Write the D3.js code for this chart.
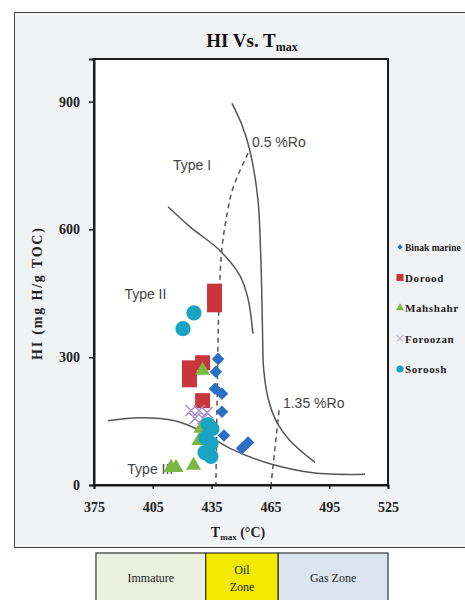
<!DOCTYPE html>
<html>
<head>
<meta charset="utf-8">
<script src="https://cdn.jsdelivr.net/npm/d3@7"></script>
<style>
  html, body { margin: 0; padding: 0; background: #fff; }
  svg { display: block; }
</style>
</head>
<body>
<svg id="chart" width="465" height="600"></svg>
<script>
// ---- Sample data: Tmax (°C) and HI (mg H/g TOC) per field ----
const binakTmax   = [438.3, 437.2, 436.7, 440.3, 440.3, 441.3, 450.5, 453.6];
const binakHI     = [296, 266, 226, 214, 172, 116, 86, 100];
const doroodTmax  = [436.5, 436.5, 423.7, 423.7, 430.4, 430.4];
const doroodHI    = [455, 423, 275, 247, 287, 198];
const mahshahrTmax = [430.4, 428.6, 429.6, 414.3, 416.8, 425.8];
const mahshahrHI   = [269, 104, 133, 41, 41, 46];
const foroozanTmax = [424.5, 428.6, 426.5, 430.6, 432.7];
const foroozanHI   = [175, 175, 156, 156, 170];
const sorooshTmax  = [426.0, 420.4, 433.2, 435.2, 432.1, 434.7, 431.6, 434.7];
const sorooshHI    = [404, 367, 142, 132, 111, 97, 76, 67];

const seriesNames = ["Binak marine", "Dorood", "Mahshahr", "Foroozan", "Soroosh"];

// ---- Kerogen type and maturity guide lines (Tmax, HI) ----
const typeIT   = [445.4, 450.5, 454.6, 458.7, 459.9, 460.6, 461.0, 461.6, 464.0, 468.5, 475.0, 487.8];
const typeIHI  = [896, 845, 784, 667, 560, 450, 355, 270, 200, 145, 104, 53];
const typeIIT  = [412.8, 424.0, 439.3, 449.5, 453.6, 456.1];
const typeIIHI = [653, 606, 550, 491, 437, 355];
const typeIIIT  = [382.1, 398.5, 416.3, 429.1, 444.4, 464.8, 486.7, 513.3];
const typeIIIHI = [151, 158, 151, 128, 86, 50, 29, 25];
const ro05T  = [453.6, 445.9, 442.9, 440.3, 438.8, 437.8, 437.2];
const ro05HI = [779, 697, 636, 557, 432, 198, 0];
const ro135T  = [469.4, 465.3];
const ro135HI = [175, 0];

// ---- Axis ticks ----
const xTicks = [375, 405, 435, 465, 495, 525];
const yTicks = [0, 300, 600, 900];

// ---- Maturity zones along Tmax ----
const zoneNames = ["Immature", "Oil|Zone", "Gas Zone"];
const zoneEdges = [376, 432, 469, 525];

const svg = d3.select("#chart");
const serif = "'Liberation Serif', 'Times New Roman', serif";
const sans = "'Liberation Sans', Arial, sans-serif";

const x = d3.scaleLinear().domain([375, 525]).range([94, 388]);
const y = d3.scaleLinear().domain([0, 1000]).range([485, 59]);

// Chart panel
svg.append("rect")
  .attr("x", 14.5).attr("y", 12.5).attr("width", 470).attr("height", 535)
  .attr("fill", "#f1f2f4").attr("stroke", "#444").attr("stroke-width", 1);

// Plot area
svg.append("rect")
  .attr("x", x(375)).attr("y", y(1000))
  .attr("width", x(525) - x(375)).attr("height", y(0) - y(1000))
  .attr("fill", "#fff");

// Title
const title = svg.append("text")
  .attr("x", 252).attr("y", 47)
  .attr("text-anchor", "middle")
  .attr("font-family", serif).attr("font-weight", "bold")
  .attr("font-size", 19).attr("fill", "#111");
title.append("tspan").text("HI Vs. T");
title.append("tspan").attr("font-size", 12).attr("dy", 4).text("max");

// Guide curves
const line = d3.line().x(d => x(d[0])).y(d => y(d[1])).curve(d3.curveCatmullRom.alpha(0.5));
const guides = [
  {t: typeIT, h: typeIHI, dash: null},
  {t: typeIIT, h: typeIIHI, dash: null},
  {t: typeIIIT, h: typeIIIHI, dash: null},
  {t: ro05T, h: ro05HI, dash: "5,4"},
  {t: ro135T, h: ro135HI, dash: "5,4"}
];
const gGuides = svg.append("g");
guides.forEach(gd => {
  gGuides.append("path")
    .attr("d", line(gd.t.map((t, i) => [t, gd.h[i]])))
    .attr("fill", "none").attr("stroke", "#555")
    .attr("stroke-width", 1.5)
    .attr("stroke-dasharray", gd.dash);
});

// Guide labels
const guideLabels = [
  {text: "Type I", t: 415.3, h: 740},
  {text: "0.5 %Ro", t: 455.6, h: 793},
  {text: "Type II", t: 390.5, h: 437},
  {text: "1.35 %Ro", t: 471.4, h: 180},
  {text: "Type III", t: 392.0, h: 25}
];
svg.append("g").selectAll("text").data(guideLabels).join("text")
  .attr("x", d => x(d.t)).attr("y", d => y(d.h))
  .attr("font-family", sans).attr("font-size", 14).attr("fill", "#444")
  .text(d => d.text);

// Markers
const crossPath = s => `M${-s},${-s}L${s},${s}M${-s},${s}L${s},${-s}`;
const series = [
  {name: seriesNames[0], t: binakTmax, h: binakHI, color: "#2a6fc4",
   sym: d3.symbol(d3.symbolSquare, 78)(), rot: 45},
  {name: seriesNames[1], t: doroodTmax, h: doroodHI, color: "#c8363c",
   sym: d3.symbol(d3.symbolSquare, 225)(), rot: 0},
  {name: seriesNames[2], t: mahshahrTmax, h: mahshahrHI, color: "#7bb843",
   sym: d3.symbol(d3.symbolTriangle, 100)(), rot: 0},
  {name: seriesNames[3], t: foroozanTmax, h: foroozanHI, color: "#a58bd3",
   sym: crossPath(5.5), rot: 0, stroke: true},
  {name: seriesNames[4], t: sorooshTmax, h: sorooshHI, color: "#1aa4c3",
   sym: d3.symbol(d3.symbolCircle, 180)(), rot: 0}
];
series.forEach(s => {
  svg.append("g").selectAll("path").data(s.t.map((t, i) => [t, s.h[i]])).join("path")
    .attr("d", s.sym)
    .attr("transform", d => `translate(${x(d[0])},${y(d[1])}) rotate(${s.rot})`)
    .attr("fill", s.stroke ? "none" : s.color)
    .attr("stroke", s.stroke ? s.color : "none")
    .attr("stroke-width", s.stroke ? 1.3 : 0);
});

// Plot border
svg.append("rect")
  .attr("x", x(375)).attr("y", y(1000))
  .attr("width", x(525) - x(375)).attr("height", y(0) - y(1000))
  .attr("fill", "none").attr("stroke", "#1a1a1a").attr("stroke-width", 2);

// Axes
const xAxis = svg.append("g").attr("transform", `translate(0,${y(0)})`)
  .call(d3.axisBottom(x).tickValues(xTicks).tickSize(4).tickPadding(13));
const yAxis = svg.append("g").attr("transform", `translate(${x(375)},0)`)
  .call(d3.axisLeft(y).tickValues(yTicks).tickSize(5).tickPadding(9));
[xAxis, yAxis].forEach(a => {
  a.select(".domain").attr("stroke", "#1a1a1a").attr("stroke-width", 2);
  a.selectAll(".tick line").attr("stroke", "#1a1a1a").attr("stroke-width", 1.5);
  a.selectAll(".tick text")
    .attr("font-family", serif).attr("font-weight", "bold")
    .attr("font-size", 14).attr("fill", "#222");
});

// Axis titles
const xTitle = svg.append("text")
  .attr("x", 238).attr("y", 537).attr("text-anchor", "middle")
  .attr("font-family", serif).attr("font-weight", "bold")
  .attr("font-size", 14).attr("fill", "#222");
xTitle.append("tspan").text("T");
xTitle.append("tspan").attr("font-size", 9).attr("dy", 3).text("max");
xTitle.append("tspan").attr("dy", -3).text(" (°C)");

svg.append("text")
  .attr("transform", "translate(42,294) rotate(-90)")
  .attr("text-anchor", "middle")
  .attr("font-family", serif).attr("font-weight", "bold")
  .attr("font-size", 14).attr("fill", "#222")
  .attr("textLength", 132).attr("lengthAdjust", "spacing")
  .text("HI (mg H/g TOC)");

// Legend
const legend = svg.append("g");
series.forEach((s, i) => {
  const ly = 247 + i * 30.5;
  const small = i === 0 ? d3.symbol(d3.symbolSquare, 14)()
    : i === 1 ? d3.symbol(d3.symbolSquare, 50)()
    : i === 2 ? d3.symbol(d3.symbolTriangle, 28)()
    : i === 3 ? crossPath(3)
    : d3.symbol(d3.symbolCircle, 40)();
  legend.append("path")
    .attr("d", small)
    .attr("transform", `translate(400,${ly}) rotate(${s.rot})`)
    .attr("fill", s.stroke ? "none" : s.color)
    .attr("stroke", s.stroke ? s.color : "none")
    .attr("stroke-width", s.stroke ? 1 : 0);
  // the longest name gets a smaller size so it stays inside the panel
  legend.append("text")
    .attr("x", 405).attr("y", ly + 4)
    .attr("font-family", serif).attr("font-weight", "bold")
    .attr("font-size", i === 0 ? 9.5 : 11).attr("fill", "#222")
    .attr("letter-spacing", i === 0 ? 0 : 0.6)
    .text(s.name);
});

// Maturity zone strip
const zoneFills = ["#ebf1de", "#f4ea00", "#dbe5f1"];
const zones = svg.append("g");
zoneNames.forEach((z, i) => {
  const x0 = x(zoneEdges[i]), x1 = x(zoneEdges[i + 1]);
  zones.append("rect")
    .attr("x", x0).attr("y", 553).attr("width", x1 - x0).attr("height", 60)
    .attr("fill", zoneFills[i]).attr("stroke", "#333").attr("stroke-width", 1.2);
  const parts = z.split("|");
  parts.forEach((p, j) => {
    zones.append("text")
      .attr("x", (x0 + x1) / 2)
      .attr("y", parts.length === 1 ? 582 : 574 + j * 17)
      .attr("text-anchor", "middle")
      .attr("font-family", serif).attr("font-size", 12).attr("fill", "#222")
      .text(p);
  });
});
</script>
</body>
</html>
